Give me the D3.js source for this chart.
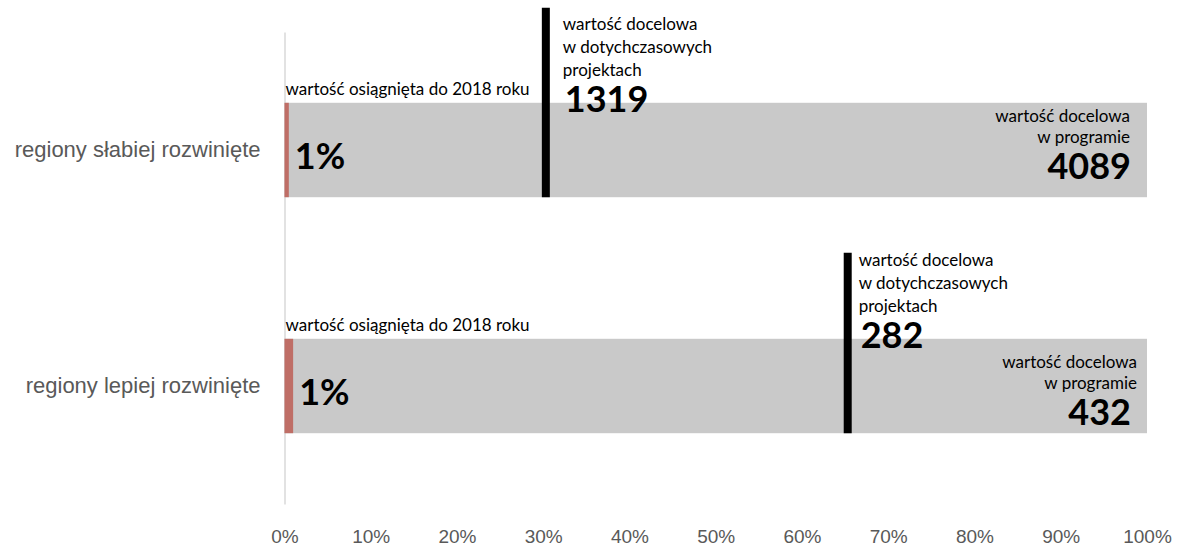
<!DOCTYPE html>
<html>
<head>
<meta charset="utf-8">
<script src="https://cdn.jsdelivr.net/npm/d3@7"></script>
<style>
  body { margin: 0; background: #fff; }
  svg { font-family: Lato, "Open Sans", sans-serif; }
  .axis text { fill: #595959; }
  .note { font-size: 17px; fill: #000; }
  .big { font-size: 36px; font-weight: bold; fill: #000; }
</style>
</head>
<body>
<div class="content"></div>
<script>
// DATA
var categories = ['regiony słabiej rozwinięte', 'regiony lepiej rozwinięte'];
var achievedPct = [0.5, 1.0];          // share reached by 2018
var achievedLabel = ['1%', '1%'];
var projectPct = [30.3, 65.3];         // target in projects, as % of programme target
var projectValue = [1319, 282];
var programmePct = [100, 100];
var programmeValue = [4089, 432];
var xTicks = [0, 10, 20, 30, 40, 50, 60, 70, 80, 90, 100];

// LAYOUT
var w = 1180,
    h = 546,
    lineRise = [95, 86],      // black marker above bar top
    projDx = [17, 11],
    progShift = [0, 10],
    progDx = [17, 10];

var svg = d3.select('.content').append('svg')
    .attr('width', w)
    .attr('height', h);

var rows = categories.map(function(c, i) { return i; });

// SCALES
var x = d3.scaleLinear().domain([0, 100]).range([284.5, 1147]);
var y = d3.scaleBand().domain(categories).range([32, 504])
    .paddingInner(0.6).paddingOuter(0.3);

// AXES
var xAxis = svg.append('g')
    .attr('class', 'axis')
    .attr('transform', 'translate(0,526)')
    .call(d3.axisBottom(x).tickValues(xTicks).tickSize(0).tickFormat(function(d) { return d + '%'; }));
xAxis.select('.domain').remove();
xAxis.selectAll('text').style('font-size', '19px').attr('dy', '0.71em');

var yAxis = svg.append('g')
    .attr('class', 'axis')
    .attr('transform', 'translate(' + x(0) + ',0)')
    .call(d3.axisLeft(y).tickSize(0).tickPadding(24));
yAxis.select('.domain').attr('stroke', '#d9d9d9').attr('stroke-width', 1.5);
yAxis.selectAll('text').style('font-size', '22px');

// BARS
svg.selectAll('.prog-bar')
    .data(rows).enter().append('rect')
    .attr('class', 'prog-bar')
    .attr('x', x(0))
    .attr('y', function(i) { return y(categories[i]); })
    .attr('width', function(i) { return x(programmePct[i]) - x(0); })
    .attr('height', y.bandwidth())
    .attr('fill', '#c9c9c9');

svg.selectAll('.ach-bar')
    .data(rows).enter().append('rect')
    .attr('class', 'ach-bar')
    .attr('x', x(0))
    .attr('y', function(i) { return y(categories[i]); })
    .attr('width', function(i) { return x(achievedPct[i]) - x(0); })
    .attr('height', y.bandwidth())
    .attr('fill', '#bf6e66');

svg.selectAll('.proj-line')
    .data(rows).enter().append('line')
    .attr('class', 'proj-line')
    .attr('x1', function(i) { return x(projectPct[i]); })
    .attr('x2', function(i) { return x(projectPct[i]); })
    .attr('y1', function(i) { return y(categories[i]) - lineRise[i]; })
    .attr('y2', function(i) { return y(categories[i]) + y.bandwidth(); })
    .attr('stroke', '#000')
    .attr('stroke-width', 8);

// LABELS
rows.forEach(function(i) {
    var top = y(categories[i]);

    svg.append('text').attr('class', 'note')
        .attr('x', x(0) + 1).attr('y', top - 8)
        .text('wartość osiągnięta do 2018 roku');
    svg.append('text').attr('class', 'big')
        .attr('x', x(achievedPct[i]) + 6).attr('y', top + 66)
        .text(achievedLabel[i]);

    var px = x(projectPct[i]) + projDx[i];
    ['wartość docelowa', 'w dotychczasowych', 'projektach'].forEach(function(t, k) {
        svg.append('text').attr('class', 'note')
            .attr('x', px).attr('y', top - 73 + k * 23)
            .text(t);
    });
    svg.append('text').attr('class', 'big')
        .attr('x', px + 2).attr('y', top + 9)
        .text(projectValue[i]);

    var rx = x(programmePct[i]) - progDx[i];
    ['wartość docelowa', 'w programie'].forEach(function(t, k) {
        svg.append('text').attr('class', 'note')
            .attr('text-anchor', 'end')
            .attr('x', rx).attr('y', top + 19 + progShift[i] + k * 21)
            .text(t);
    });
    svg.append('text').attr('class', 'big')
        .attr('text-anchor', 'end')
        .attr('x', x(programmePct[i]) - 16).attr('y', top + 76 + progShift[i])
        .text(programmeValue[i]);
});
</script>
</body>
</html>
